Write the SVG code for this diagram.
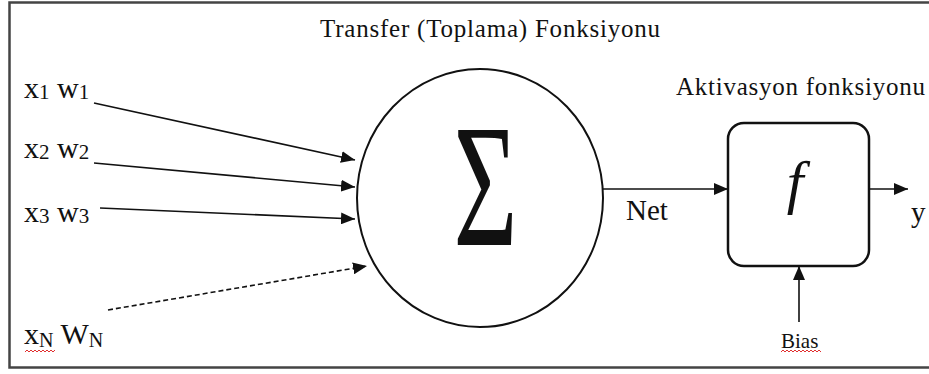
<svg xmlns="http://www.w3.org/2000/svg" width="929" height="374" viewBox="0 0 929 374" font-family="'Liberation Serif', 'Times New Roman', 'DejaVu Serif', serif">
<defs>
<style>
text{font-family:'Liberation Serif','Times New Roman','DejaVu Serif',serif;fill:#111}
.ln{stroke:#111;stroke-width:1.6;fill:none}
.sq{stroke:#e03030;stroke-width:1;fill:none}
</style>
<marker id="ah" markerUnits="userSpaceOnUse" markerWidth="15" markerHeight="12" refX="14" refY="6" orient="auto">
<path d="M0,0 L14,6 L0,12 z" fill="#111"/>
</marker>
</defs>
<rect x="0" y="0" width="929" height="374" fill="#fff"/>
<rect x="9.5" y="2.5" width="940" height="365" fill="none" stroke="#444" stroke-width="2.5"/>
<text x="320" y="37" font-size="25" textLength="340">Transfer (Toplama) Fonksiyonu</text>
<g id="inputs">
<text x="24" y="98" font-size="30">x<tspan font-size="21" dy="1">1</tspan><tspan dy="-1"> w</tspan><tspan font-size="21" dy="1">1</tspan></text>
<text x="24" y="158" font-size="30">x<tspan font-size="21" dy="1">2</tspan><tspan dy="-1"> w</tspan><tspan font-size="21" dy="1">2</tspan></text>
<text x="24" y="222" font-size="30">x<tspan font-size="21" dy="1">3</tspan><tspan dy="-1"> w</tspan><tspan font-size="21" dy="1">3</tspan></text>
<text x="24" y="344" font-size="30">x<tspan font-size="20" dy="3">N</tspan><tspan dy="-3"> W</tspan><tspan font-size="20" dy="3">N</tspan></text>
<path class="sq" d="M25,352 l2,-2 l2,2 l2,-2 l2,2 l2,-2 l2,2 l2,-2 l2,2 l2,-2 l2,2 l2,-2 l2,2 l2,-2 l2,2 l2,-2"/>
</g>
<g id="sum">
<ellipse cx="480" cy="198" rx="123" ry="129" fill="none" stroke="#111" stroke-width="2"/>
<text transform="translate(485.5,245) scale(1,1.59)" x="0" y="0" font-size="110" text-anchor="middle">Σ</text>
</g>
<g id="activation">
<text x="676" y="95" font-size="25" textLength="249">Aktivasyon fonksiyonu</text>
<rect x="728" y="123" width="141" height="143" rx="16" ry="16" fill="none" stroke="#111" stroke-width="2.5"/>
<text x="795" y="202" font-size="60" font-style="italic" text-anchor="middle">f</text>
</g>
<g id="labels">
<text x="626" y="220" font-size="29">Net</text>
<text x="911" y="222" font-size="29">y</text>
<text x="781" y="348" font-size="21">Bias</text>
<path class="sq" d="M781,352 l2,-2 l2,2 l2,-2 l2,2 l2,-2 l2,2 l2,-2 l2,2 l2,-2 l2,2 l2,-2 l2,2 l2,-2 l2,2 l2,-2 l2,2 l2,-2 l2,2 l2,-2 l2,2"/>
</g>
<g id="connectors">
<line class="ln" x1="94" y1="103" x2="355" y2="160" marker-end="url(#ah)"/>
<line class="ln" x1="94" y1="163" x2="355" y2="187" marker-end="url(#ah)"/>
<line class="ln" x1="100" y1="208" x2="355" y2="219" marker-end="url(#ah)"/>
<line class="ln" x1="108" y1="310" x2="367" y2="266" stroke-dasharray="5,3" marker-end="url(#ah)"/>
<line class="ln" x1="603" y1="189" x2="728" y2="189" marker-end="url(#ah)"/>
<line class="ln" x1="869" y1="189" x2="908" y2="189" marker-end="url(#ah)"/>
<line class="ln" x1="799" y1="322" x2="799" y2="266" marker-end="url(#ah)"/>
</g>
</svg>
